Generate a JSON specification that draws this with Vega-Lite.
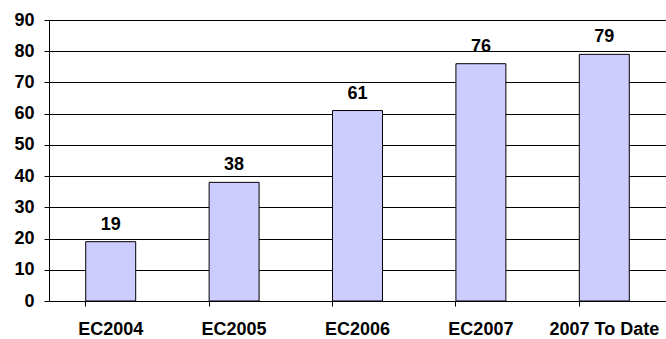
{
  "$schema": "https://vega.github.io/schema/vega-lite/v6.json",
  "width": 617,
  "height": 281,
  "autosize": "none",
  "padding": {"left": 49, "top": 20, "right": 0, "bottom": 38},
  "background": "white",
  "config": {
    "view": {"stroke": null},
    "font": "Liberation Sans",
    "axis": {"labelFont": "Liberation Sans", "labelFontWeight": "bold", "labelColor": "black"},
    "axisY": {"labelFont": "Liberation Sans", "labelFontWeight": "bold", "labelFontSize": 18, "labelColor": "black"},
    "axisQuantitative": {"labelFontWeight": "bold", "labelFontSize": 18}
  },
  "data": {
    "values": [
      {"event": "EC2004", "count": 19},
      {"event": "EC2005", "count": 38},
      {"event": "EC2006", "count": 61},
      {"event": "EC2007", "count": 76},
      {"event": "2007 To Date", "count": 79}
    ]
  },
  "encoding": {
    "y": {
      "field": "count",
      "type": "quantitative",
      "scale": {"domain": [0, 90], "nice": false},
      "axis": {
        "title": null, "values": [0, 10, 20, 30, 40, 50, 60, 70, 80, 90],
        "labelOverlap": false, "labelFlush": false,
        "labelPadding": 10, "tickSize": 5, "tickColor": "black",
        "domainColor": "black", "grid": true, "gridColor": "black", "gridWidth": 1,
        "gridOpacity": 1
      }
    }
  },
  "layer": [
    {
      "mark": {"type": "bar", "fill": "#CCCCFF", "stroke": "black", "strokeWidth": 1},
      "encoding": {
        "x": {
          "field": "event", "type": "nominal", "sort": null,
          "scale": {"paddingInner": 0.595, "paddingOuter": 0.2975},
          "axis": {
            "title": null, "orient": "bottom", "labelAngle": 0, "labelFontSize": 18,
            "labelFontWeight": "bold", "labelColor": "black",
            "ticks": false, "tickSize": 0, "labelPadding": 19, "labelBaseline": "top",
            "domain": true, "domainColor": "black", "domainWidth": 1, "grid": false
          }
        }
      }
    },
    {
      "mark": {"type": "text", "baseline": "alphabetic", "dy": -12, "fontSize": 18, "fontWeight": "bold", "color": "black"},
      "encoding": {
        "x": {
          "field": "event", "type": "nominal", "sort": null,
          "axis": {
            "title": null, "orient": "bottom", "labels": false, "domain": false,
            "ticks": true, "tickSize": 5, "tickColor": "black", "bandPosition": 0, "grid": false
          }
        },
        "text": {"field": "count", "type": "quantitative"}
      }
    }
  ],
  "resolve": {"axis": {"x": "independent"}}
}
